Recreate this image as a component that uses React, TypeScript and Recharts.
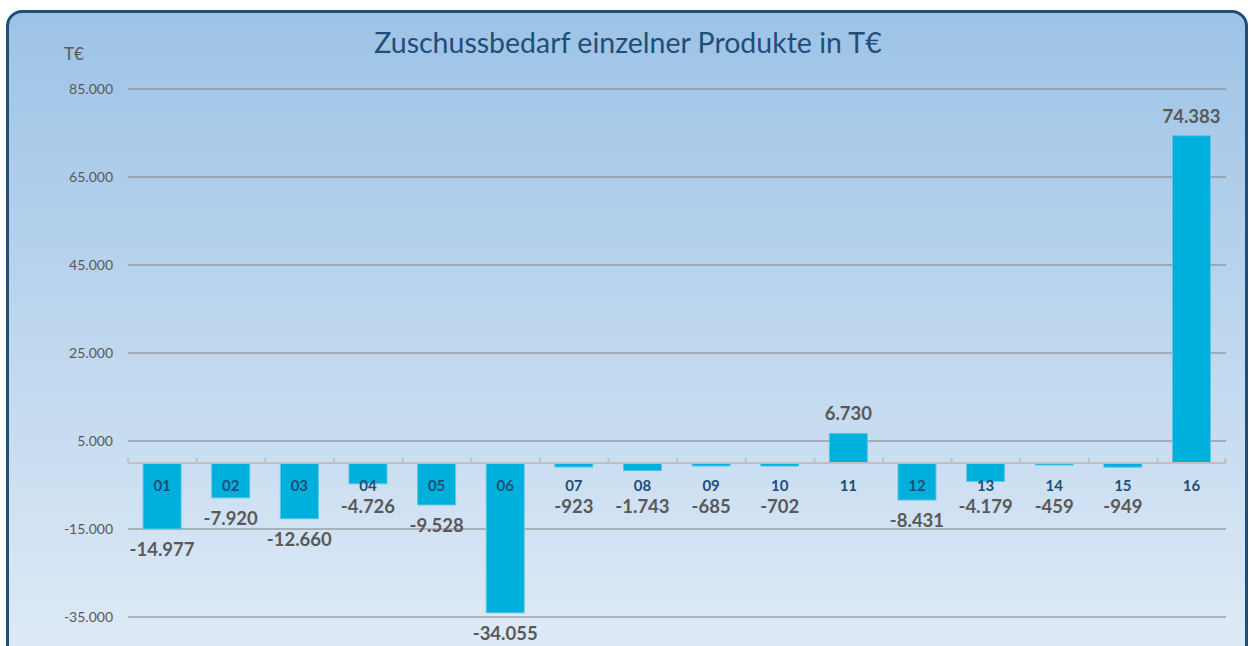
import { BarChart, Bar, XAxis, YAxis, CartesianGrid, ReferenceLine, LabelList } from "recharts";

const categories = ["01", "02", "03", "04", "05", "06", "07", "08", "09", "10", "11", "12", "13", "14", "15", "16"];
const values = [-14977, -7920, -12660, -4726, -9528, -34055, -923, -1743, -685, -702, 6730, -8431, -4179, -459, -949, 74383];
const yTicks = [-35000, -15000, 5000, 25000, 45000, 65000, 85000];

const data = categories.map((c, i) => ({ product: c, value: values[i] }));

const FONT = "Lato, 'Open Sans', sans-serif";
const GAP = 0.22;

// 12345 -> "12.345"
function fmt(v: number) {
    const s = Math.abs(v).toString().replace(/\B(?=(\d{3})+(?!\d))/g, ".");
    return v < 0 ? "-" + s : s;
}

function BarLabels(props: any) {
    const vb = props.viewBox ?? props;
    const x = Number(vb.x ?? props.x);
    const y = Number(vb.y ?? props.y);
    const w = Number(vb.width ?? props.width);
    const h = Number(vb.height ?? props.height);
    const value = Number(props.value);
    const index = props.index as number;
    const top = Math.min(y, y + h);
    const bottom = Math.max(y, y + h);
    const zero = value < 0 ? top : bottom;
    const cx = x + w / 2;
    const band = w / (1 - 2 * GAP);
    const valueY = value < 0 ? Math.max(bottom + 20, zero + 43) : top - 20;
    return (
        <g>
            <line x1={cx - band / 2} x2={cx - band / 2} y1={zero - 5} y2={zero} stroke="#c0c0c0" strokeWidth={2} />
            {index === categories.length - 1 && (
                <line x1={cx + band / 2} x2={cx + band / 2} y1={zero - 5} y2={zero} stroke="#c0c0c0" strokeWidth={2} />
            )}
            <text x={cx} y={zero + 22} textAnchor="middle" dominantBaseline="central"
                fill="#1f4e79" fontFamily={FONT} fontWeight={700} fontSize={15}>
                {categories[index]}
            </text>
            <text x={cx} y={valueY} textAnchor="middle" dominantBaseline="central"
                fill="#595959" fontFamily={FONT} fontWeight={700} fontSize={18.5}>
                {fmt(value)}
            </text>
        </g>
    );
}

export default function App() {
    return (
        <div style={{ position: "absolute", left: 0, top: 0, width: 1251, height: 646, overflow: "hidden", background: "#fff" }}>
            <div style={{
                position: "absolute", left: 6, top: 10, width: 1236, height: 680,
                border: "3px solid #1f4e79", borderRadius: 16,
                background: "linear-gradient(to bottom, #9dc3e6 0%, #dde9f6 92%)",
            }} />
            <div style={{
                position: "absolute", left: 0, width: 1256, top: 25, textAlign: "center",
                fontFamily: FONT, fontSize: 28.5, color: "#1f4e79",
            }}>
                Zuschussbedarf einzelner Produkte in T€
            </div>
            <div style={{ position: "absolute", left: 64, top: 43, fontFamily: FONT, fontSize: 17, color: "#595959" }}>
                T€
            </div>
            <div style={{ position: "absolute", left: 0, top: 0 }}>
                <BarChart width={1251} height={646} data={data}
                    margin={{ top: 89, right: 25, left: 0, bottom: 29 }}
                    barCategoryGap={`${GAP * 100}%`}>
                    <CartesianGrid horizontal vertical={false} stroke="#7f7f7f" strokeWidth={1} />
                    <XAxis dataKey="product" hide />
                    <YAxis
                        width={128}
                        domain={[-35000, 85000]}
                        ticks={yTicks}
                        tickFormatter={fmt}
                        axisLine={false}
                        tickLine={false}
                        tickSize={0}
                        tickMargin={15}
                        tick={{ fill: "#595959", fontSize: 14, fontFamily: FONT }}
                    />
                    <Bar dataKey="value" fill="#00b0dc" stroke="#5cc6e6" strokeWidth={1} isAnimationActive={false}>
                        <LabelList dataKey="value" content={<BarLabels />} />
                    </Bar>
                    <ReferenceLine y={0} stroke="#c0c0c0" strokeWidth={2} />
                </BarChart>
            </div>
        </div>
    );
}
